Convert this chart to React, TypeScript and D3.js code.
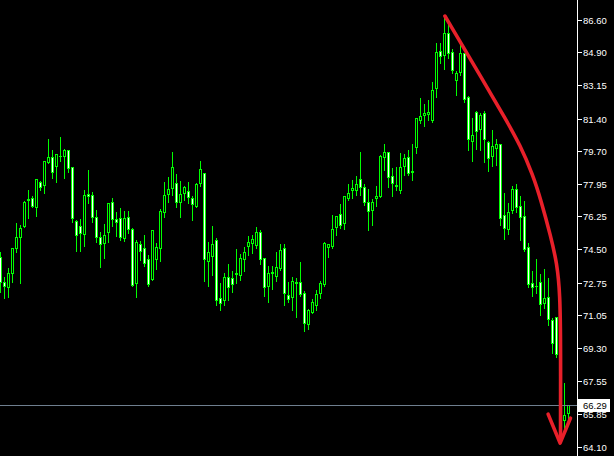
import React from "react";
import * as d3 from "d3";

const opens = [74.12,72.77,72.53,73.27,74.56,75.17,75.74,77.12,77.23,76.75,78.07,77.88,79.13,79.39,78.92,79.43,79.43,79.74,78.83,76.02,75.75,75.30,77.42,77.37,76.19,75.14,74.82,75.40,77.02,76.09,76.14,75.09,76.23,75.56,72.71,74.77,74.56,73.98,72.92,74.01,74.56,76.49,77.41,77.72,78.02,77.02,77.46,77.60,77.23,76.81,77.99,78.52,73.91,74.15,75.00,71.94,71.83,73.06,72.98,73.24,73.15,73.98,74.70,74.82,74.73,75.40,74.03,72.59,73.27,73.11,73.54,74.56,72.10,71.98,72.80,72.77,72.19,70.57,71.18,71.57,72.22,72.68,74.64,74.68,75.67,76.35,75.91,77.20,77.63,77.63,78.20,77.78,76.99,76.58,77.20,77.33,79.39,79.62,78.39,77.88,77.63,78.90,79.36,78.60,79.89,81.33,81.57,81.63,81.33,83.00,84.97,84.75,85.93,84.93,83.44,83.87,84.84,82.52,80.23,81.73,80.84,81.68,80.15,79.43,79.83,80.04,76.32,75.56,76.58,77.69,76.79,76.26,74.61,72.71,72.59,72.77,71.66,72.01,70.78,70.92,68.93,65.50,65.89];
const highs = [74.43,73.10,73.59,74.64,75.93,75.83,77.11,77.67,77.35,78.25,78.16,79.22,80.36,79.80,79.57,80.48,79.83,79.80,78.90,76.09,76.14,77.67,78.73,77.58,76.63,75.49,75.88,77.02,77.28,76.53,76.75,76.58,76.58,75.67,75.05,75.00,75.31,74.26,75.55,74.91,76.67,78.11,78.37,79.69,78.55,78.16,77.90,78.11,77.37,78.07,79.22,78.55,74.95,75.79,75.17,72.80,73.33,73.77,73.42,74.59,74.30,74.68,75.26,75.31,75.74,75.58,74.03,73.68,73.68,74.42,74.86,74.82,72.84,73.10,73.06,73.91,72.36,71.43,71.92,72.41,72.89,74.96,74.86,76.37,76.32,76.93,77.37,77.99,78.20,78.43,79.69,78.02,77.72,77.20,77.90,79.52,80.10,79.69,78.86,78.90,79.65,79.57,79.78,80.10,81.50,82.52,82.21,82.42,83.38,85.46,85.42,86.74,86.46,85.11,83.96,85.37,84.93,82.64,81.47,81.85,81.73,81.85,80.27,80.84,80.36,80.13,77.55,77.02,77.90,77.99,77.37,77.11,74.91,73.42,74.03,73.24,73.51,73.06,70.92,70.99,69.20,67.52,66.35];
const lows = [72.27,71.92,72.01,72.80,74.38,72.71,75.67,76.17,76.72,76.28,77.63,77.49,79.04,78.28,78.07,79.18,78.25,78.60,75.96,74.43,74.43,74.70,76.96,75.96,74.91,73.59,74.06,74.91,75.75,75.21,75.00,74.96,75.35,72.57,72.01,73.94,73.63,72.57,72.89,73.45,73.91,76.19,77.02,77.37,76.75,76.23,77.11,76.93,76.05,76.75,77.85,72.85,72.59,73.15,71.57,71.31,71.57,71.83,72.27,72.71,72.89,73.38,74.21,74.30,74.56,73.73,72.04,71.74,72.40,72.85,73.42,71.57,71.74,71.31,70.95,72.04,70.21,70.30,71.13,71.31,71.92,72.57,74.12,74.56,75.26,75.65,75.58,77.11,77.20,77.37,77.37,76.84,75.53,75.79,76.79,77.28,78.69,77.81,77.32,77.63,77.46,78.43,78.43,78.16,79.60,81.15,81.03,81.33,81.20,82.52,84.32,84.00,84.58,83.79,82.64,83.70,82.29,79.74,79.18,79.78,79.74,79.13,78.65,78.90,78.95,75.79,75.03,75.31,76.41,76.49,75.00,74.43,72.53,72.04,72.19,71.04,71.40,70.51,69.05,68.84,65.30,65.07,65.59];
const closes = [72.80,72.59,73.24,74.59,75.14,75.61,77.02,77.16,76.79,78.20,77.81,79.16,79.39,78.60,79.53,79.45,79.74,78.78,76.14,75.26,75.35,77.37,77.33,76.23,75.14,74.77,75.25,76.96,76.09,75.96,75.17,76.14,75.56,72.62,74.88,74.43,73.77,72.68,75.53,74.61,76.53,77.37,77.67,78.83,76.99,77.41,77.78,77.25,76.88,77.94,78.73,73.98,74.35,74.77,71.83,71.68,73.06,72.53,72.68,73.19,74.03,74.38,74.88,75.03,75.44,73.98,72.50,73.27,73.29,73.56,74.47,72.19,71.87,72.85,72.71,72.15,70.64,71.31,71.71,72.15,72.71,74.82,74.77,75.56,76.26,75.79,77.32,77.46,77.72,77.94,77.78,77.02,76.54,77.02,77.32,79.43,79.65,78.34,78.02,77.86,78.86,79.31,78.55,78.64,81.42,81.54,81.68,81.73,82.91,84.93,84.70,85.93,84.88,83.96,83.82,84.84,82.42,80.31,80.54,80.76,81.59,80.31,79.31,79.96,80.04,76.14,75.61,76.49,77.67,76.72,76.23,74.51,72.68,72.53,72.57,71.62,71.92,70.82,69.55,68.99,65.55,65.77,66.29];

const tickLabels = ["86.60","84.90","83.15","81.40","79.70","77.95","76.25","74.50","72.75","71.05","69.30","67.55","65.85","64.10"];
const lastPrice = 66.29;

// arrow annotation in (bar index, price)
const arrowBars = [111.1,120.55,126.4,129.9,133.1,135.1,137.6,139.1,139.9,140.05,140.0];
const arrowPrices = [86.81,83.44,81.33,80.01,78.43,77.11,75.16,73.78,72.20,69.20,64.45];
const headBars = [136.9,139.9,142.5];
const headPrices = [65.82,64.29,65.61];

const W = 614, H = 456;
const AXIS_X = 577.5;

export default function App() {
  const x = d3.scaleLinear().domain([0, 142]).range([0.5, 568.5]);
  const y = d3.scaleLinear().domain([64.1, 86.6]).range([446.7, 20]);
  const green = "#00ff00";
  const red = "#e8202a";
  const ry = (v: number) => Math.round(y(v));

  const candles = opens.map((o, i) => {
    const c = closes[i], h = highs[i], l = lows[i];
    const cx = x(i);
    const top = ry(Math.max(o, c));
    const bot = ry(Math.min(o, c));
    const bull = c > o;
    return (
      <g key={i}>
        <line x1={cx} x2={cx} y1={ry(h) + 0.5} y2={ry(l) + 0.5} stroke={green} strokeWidth={1} />
        {bot - top >= 1 ? (
          <rect x={cx - 1} y={top + 0.5} width={2} height={bot - top}
            fill={bull ? "#000" : "#fff"} stroke={green} strokeWidth={1} />
        ) : (
          <line x1={cx - 1.5} x2={cx + 1.5} y1={top + 0.5} y2={top + 0.5} stroke={green} strokeWidth={1} />
        )}
      </g>
    );
  });

  const curve = d3.line<number>()
    .x((_, i) => x(arrowBars[i]))
    .y((p) => y(p))
    .curve(d3.curveBasis)(arrowPrices) || "";
  const head = d3.line<number>()
    .x((_, i) => x(headBars[i]))
    .y((p) => y(p))(headPrices) || "";

  const lpY = ry(lastPrice) + 0.5;

  return (
    <svg width={W} height={H} style={{ position: "fixed", left: 0, top: 0, background: "#000" }}
      fontFamily="'Liberation Sans', Arial, sans-serif">
      <rect x={0} y={0} width={W} height={H} fill="#000" />
      <g shapeRendering="crispEdges">{candles}</g>
      <line x1={0} x2={AXIS_X} y1={lpY} y2={lpY} stroke="#6f7f8f" strokeWidth={1} shapeRendering="crispEdges" />
      <path d={curve} fill="none" stroke={red} strokeWidth={3.6} strokeLinecap="round" strokeLinejoin="round" />
      <path d={head} fill="none" stroke={red} strokeWidth={3.6} strokeLinecap="round" strokeLinejoin="round" />
      <line x1={AXIS_X} x2={AXIS_X} y1={0} y2={H} stroke="#fff" strokeWidth={1} shapeRendering="crispEdges" />
      {tickLabels.map((t) => {
        const ty = ry(+t) + 0.5;
        return (
          <g key={t}>
            <line x1={AXIS_X} x2={AXIS_X + 4} y1={ty} y2={ty} stroke="#fff" strokeWidth={1} shapeRendering="crispEdges" />
            <text x={583} y={ty} dy="0.35em" fill="#fff" fontSize={9.5}>{t}</text>
          </g>
        );
      })}
      <rect x={578} y={lpY - 6.5} width={32} height={13} fill="#fff" shapeRendering="crispEdges" />
      <text x={583} y={lpY} dy="0.35em" fill="#000" fontSize={9.5}>{lastPrice.toFixed(2)}</text>
    </svg>
  );
}
